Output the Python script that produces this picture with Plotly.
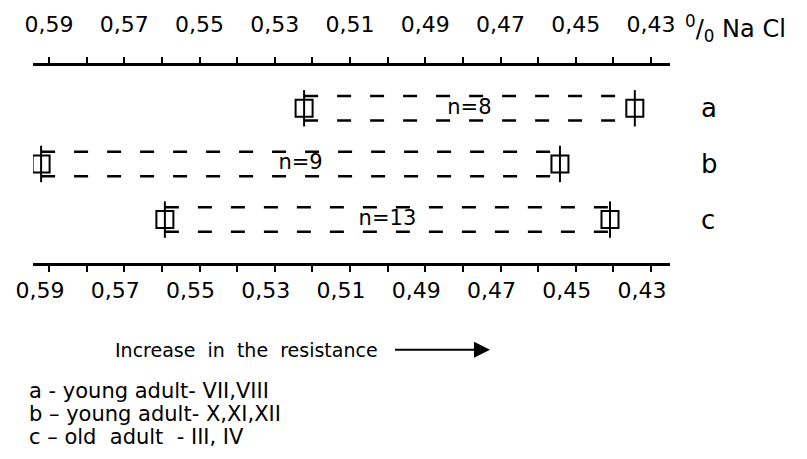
import plotly.graph_objects as go

# ---- data ----
groups = ["a", "b", "c"]
n_values = [8, 9, 13]
upper_nacl = [0.5222, 0.5921, 0.5592]   # left end (lower resistance)
lower_nacl = [0.4343, 0.4542, 0.4409]   # right end (higher resistance)
tick_values = [0.59, 0.57, 0.55, 0.53, 0.51, 0.49, 0.47, 0.45, 0.43]
tick_labels = ["0,59", "0,57", "0,55", "0,53", "0,51",
               "0,49", "0,47", "0,45", "0,43"]
minor_tick_values = [0.58, 0.56, 0.54, 0.52, 0.50, 0.48, 0.46, 0.44]
group_desc = ["a - young adult- VII,VIII",
              "b \u2013 young adult- X,XI,XII",
              "c \u2013 old\u00a0 adult\u00a0 - III, IV"]

W, H = 807, 459
L, R, T, B = 33, 137, 63, 196
FONT = "DejaVu Sans"

rows = [len(groups) - i for i in range(len(groups))]
off = 0.22

fig = go.Figure()

for g, n, up, lo, r in zip(groups, n_values, upper_nacl, lower_nacl, rows):
    fig.add_trace(go.Scatter(
        x=[up, lo, None, up, lo],
        y=[r + off, r + off, None, r - off, r - off],
        mode="lines", line=dict(color="black", width=2.5, dash="14px,19px"),
        hoverinfo="skip", showlegend=False))
    fig.add_trace(go.Scatter(
        x=[up, lo], y=[r, r], mode="markers",
        marker=dict(symbol="square-open", size=17, color="black",
                    line=dict(width=2, color="black")),
        showlegend=False))
    fig.add_trace(go.Scatter(
        x=[up, lo], y=[r, r], mode="markers",
        marker=dict(symbol="line-ns-open", size=26, color="black",
                    line=dict(width=2, color="black")),
        showlegend=False))
    fig.add_trace(go.Scatter(
        x=[(up + lo) / 2], y=[r], mode="text", text=[f"n={n}"],
        textfont=dict(family=FONT, size=21, color="black"),
        showlegend=False))

fig.add_trace(go.Scatter(x=upper_nacl, y=rows, xaxis="x2", mode="markers",
                         marker=dict(opacity=0), showlegend=False,
                         hoverinfo="skip"))

xrange = [0.594252, 0.42495]
axis_common = dict(
    range=xrange, tickmode="array", tickvals=tick_values, ticktext=tick_labels,
    showline=True, linecolor="black", linewidth=2.5,
    ticks="outside", ticklen=6, tickwidth=2, tickcolor="black",
    minor=dict(tickmode="array", tickvals=minor_tick_values, ticks="outside",
               ticklen=6, tickwidth=2, tickcolor="black", showgrid=False),
    showgrid=False, zeroline=False,
    tickfont=dict(family=FONT, size=22, color="black"),
)

fig.update_layout(
    width=W, height=H,
    margin=dict(l=L, r=R, t=T, b=B, pad=0),
    paper_bgcolor="white", plot_bgcolor="white",
    xaxis=dict(**axis_common, side="bottom", ticklabelshift=9,
               ticklabelstandoff=0),
    xaxis2=dict(**axis_common, side="top", overlaying="x",
                ticklabelstandoff=16),
    yaxis=dict(range=[0.22, 3.76], tickmode="array", tickvals=rows,
               ticktext=groups, side="right", showline=False, ticks="",
               showgrid=False, zeroline=False, ticklabelstandoff=30,
               tickfont=dict(family=FONT, size=26, color="black")),
)

pw = W - L - R
ph = H - T - B


def px(xp):
    return (xp - L) / pw


def py(yp):
    return (H - B - yp) / ph


fig.add_annotation(
    x=px(683), y=py(25), xref="paper", yref="paper", xanchor="left",
    yanchor="middle", showarrow=False,
    text="<sup>0</sup>/<sub>0</sub> Na Cl",
    font=dict(family=FONT, size=24, color="black"))

fig.add_annotation(
    x=px(490), y=py(351), xref="paper", yref="paper", showarrow=True,
    ax=246 - 490, ay=0, standoff=0, startstandoff=16,
    text="Increase\u00a0 in\u00a0 the\u00a0 resistance",
    font=dict(family=FONT, size=19, color="black"),
    arrowhead=2, arrowsize=1.6, arrowwidth=2, arrowcolor="black")

for desc, yc in zip(group_desc, [393, 416, 440]):
    fig.add_annotation(
        x=px(27), y=py(yc), xref="paper", yref="paper", xanchor="left",
        yanchor="middle", align="left", showarrow=False, text=desc,
        font=dict(family=FONT, size=21, color="black"))

fig.write_html("out.html")
